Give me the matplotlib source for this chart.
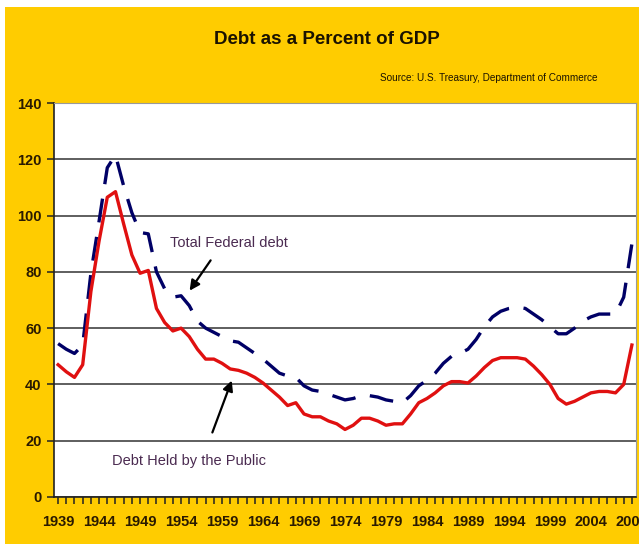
import matplotlib
matplotlib.use("Agg")
import matplotlib.pyplot as plt
from matplotlib.patches import Rectangle
import numpy as np

years = list(range(1939, 2010))
total_federal_debt = [54.5, 52.5, 51, 54, 79.5, 98, 117, 121.5, 110.5, 101, 94, 93.5,
                      80, 74, 71, 71.5, 68, 62.5, 60, 58.5, 57, 55.5, 55, 53,
                      51, 49, 46.5, 44, 43, 42.5, 39.5, 38, 37.5, 36.5, 35.5, 34.5,
                      35, 36, 36, 35.5, 34.5, 34, 33.5, 36, 39.5, 41.5, 44, 47.5,
                      50, 51, 52.5, 56, 60.5, 64, 66, 67, 67.5, 67, 65, 63,
                      60.5, 58, 58, 60, 62.5, 64, 65, 65, 65, 71, 90]
debt_held_by_public = [47, 44.5, 42.5, 47, 73, 91, 106.5, 108.5, 97, 86, 79.5, 80.5,
                       67, 62, 59, 60, 57, 52.5, 49, 49, 47.5, 45.5, 45, 44,
                       42.5, 40.5, 38, 35.5, 32.5, 33.5, 29.5, 28.5, 28.5, 27, 26, 24,
                       25.5, 28, 28, 27, 25.5, 26, 26, 29.5, 33.5, 35, 37, 39.5,
                       41, 41, 40.5, 43, 46, 48.5, 49.5, 49.5, 49.5, 49, 46.5, 43.5,
                       40, 35, 33, 34, 35.5, 37, 37.5, 37.5, 37, 40, 54]
tick_years = list(range(1939, 2010, 5))
y_ticks = [0, 20, 40, 60, 80, 100, 120, 140]

title = "Debt as a Percent of GDP"
source = "Source: U.S. Treasury, Department of Commerce"
label_total = "Total Federal debt"
label_public = "Debt Held by the Public"

NARROW = ["Liberation Sans Narrow", "Liberation Sans", "DejaVu Sans"]
YELLOW = "#FFCC00"

fig = plt.figure(figsize=(6.39, 5.47), dpi=100)
fig.patch.set_facecolor("white")
bg = Rectangle((5 / 639, 3 / 547), 634 / 639, 537 / 547,
               transform=fig.transFigure, facecolor=YELLOW,
               edgecolor="none", zorder=-10)
fig.patches.append(bg)

ax = fig.add_axes([54 / 639, 50 / 547, 582 / 639, 394 / 547])
ax.set_zorder(1)
ax.set_facecolor("white")

ax.plot(years, total_federal_debt, color="#000066", lw=2.4,
        dashes=(7.2, 4.4), solid_capstyle="butt", dash_capstyle="butt", zorder=3)
ax.plot(years, debt_held_by_public, color="#E01010", lw=2.4, zorder=4)

ax.set_xlim(1938.5, 2009.5)
ax.set_ylim(0, 140)
ax.set_yticks(y_ticks)
ax.set_xticks(tick_years)
ax.set_xticks(years, minor=True)
ax.yaxis.grid(True, color="#333333", lw=1.1, zorder=1)
ax.set_axisbelow(True)

for s in ["left", "bottom"]:
    ax.spines[s].set_color("#222222")
    ax.spines[s].set_linewidth(1.2)
for s in ["top", "right"]:
    ax.spines[s].set_color("#999999")
    ax.spines[s].set_linewidth(0.8)

ax.tick_params(axis="both", which="major", length=5, width=1.1, color="#222222",
               labelsize=10.5, labelcolor="#2a1a00", pad=4)
ax.tick_params(axis="x", which="minor", length=5, width=1.1, color="#222222")
for lbl in ax.get_xticklabels() + ax.get_yticklabels():
    lbl.set_family(NARROW)
    lbl.set_fontweight("bold")
ax.tick_params(axis="x", which="major", pad=8)

fig.text(327 / 639, 1 - 40 / 547, title, ha="center", va="center",
         fontsize=13.5, fontweight="bold", family=NARROW, color="#1a1200")
fig.text(598 / 639, 1 - 78 / 547, source, ha="right", va="center",
         fontsize=7.2, family=NARROW, color="#1a1200")

ax.text(1952.7, 90.2, label_total, ha="left", va="center", fontsize=10.5,
        family=["Liberation Sans", "DejaVu Sans"], color="#4a2a50", zorder=5)
ax.text(1945.6, 12.8, label_public, ha="left", va="center", fontsize=10.5,
        family=["Liberation Sans", "DejaVu Sans"], color="#4a2a50", zorder=5)

ax.annotate("", xy=(1954.85, 72.5), xytext=(1957.8, 84.9),
            arrowprops=dict(arrowstyle="-|>,head_length=0.6,head_width=0.3",
                            color="black", lw=1.6), zorder=6)
ax.annotate("", xy=(1960.3, 42.3), xytext=(1957.7, 22),
            arrowprops=dict(arrowstyle="-|>,head_length=0.6,head_width=0.3",
                            color="black", lw=1.6), zorder=6)

fig.savefig("out.png", dpi=100, facecolor=fig.get_facecolor())
